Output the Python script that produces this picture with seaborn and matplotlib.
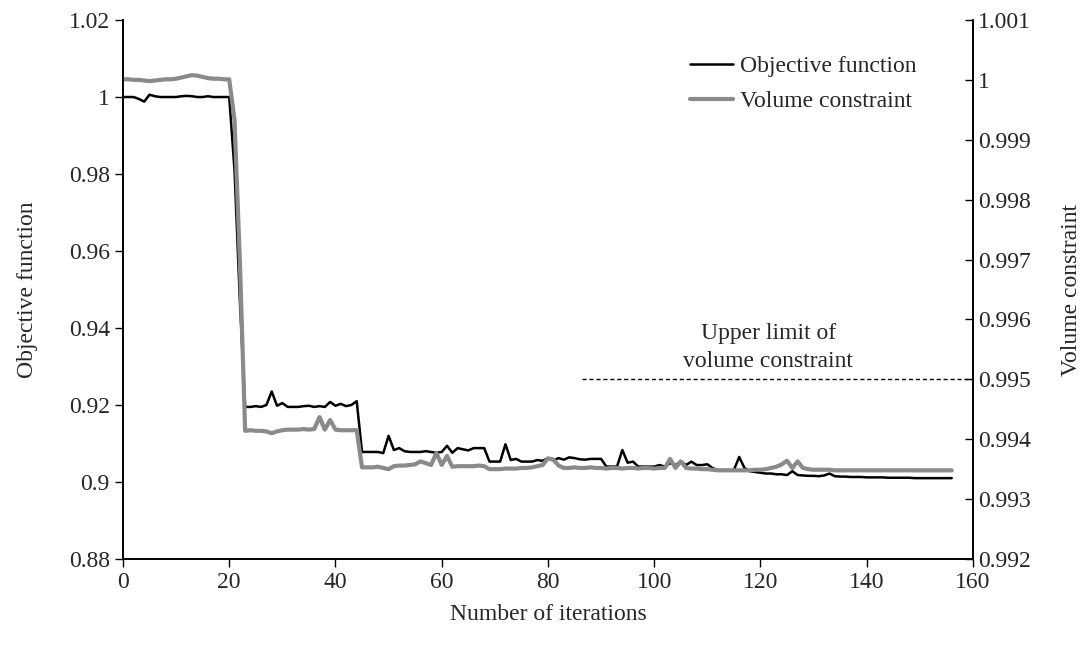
import matplotlib
matplotlib.use("Agg")
import matplotlib.pyplot as plt
import seaborn as sns
import pandas as pd
from matplotlib.ticker import FixedLocator, FuncFormatter

# Optimisation history: objective (left axis) and volume constraint (right axis)
objective = [
    1.0000, 1.0000, 1.0000, 0.9995, 0.9988, 1.0006, 1.0002, 1.0000, 1.0000, 1.0000,
    1.0000, 1.0002, 1.0003, 1.0002, 1.0000, 1.0000, 1.0002, 1.0000, 1.0000, 1.0000,
    1.0000, 0.9810, 0.9473, 0.9195, 0.9195, 0.9197, 0.9195, 0.9200, 0.9235, 0.9198,
    0.9205, 0.9195, 0.9195, 0.9195, 0.9197, 0.9198, 0.9195, 0.9197, 0.9195, 0.9208,
    0.9198, 0.9203, 0.9197, 0.9200, 0.9210, 0.9078, 0.9078, 0.9078, 0.9078, 0.9075,
    0.9120, 0.9083, 0.9088, 0.9080, 0.9078, 0.9078, 0.9078, 0.9080, 0.9078, 0.9076,
    0.9078, 0.9094, 0.9076, 0.9088, 0.9085, 0.9082, 0.9088, 0.9088, 0.9088, 0.9053,
    0.9053, 0.9053, 0.9098, 0.9057, 0.9060, 0.9053, 0.9053, 0.9053, 0.9057, 0.9055,
    0.9062, 0.9056, 0.9062, 0.9058, 0.9064, 0.9062, 0.9059, 0.9058, 0.9060, 0.9060,
    0.9060, 0.9040, 0.9040, 0.9040, 0.9083, 0.9050, 0.9053, 0.9040, 0.9040, 0.9040,
    0.9040, 0.9044, 0.9040, 0.9049, 0.9044, 0.9053, 0.9044, 0.9053, 0.9044, 0.9044,
    0.9046, 0.9036, 0.9031, 0.9031, 0.9031, 0.9031, 0.9065, 0.9036, 0.9028, 0.9026,
    0.9024, 0.9022, 0.9022, 0.9020, 0.9020, 0.9018, 0.9028, 0.9018, 0.9017, 0.9016,
    0.9016, 0.9015, 0.9017, 0.9022, 0.9015, 0.9014, 0.9014, 0.9013, 0.9013, 0.9013,
    0.9012, 0.9012, 0.9012, 0.9012, 0.9011, 0.9011, 0.9011, 0.9011, 0.9011, 0.9010,
    0.9010, 0.9010, 0.9010, 0.9010, 0.9010, 0.9010, 0.9010,
]
volume = [
    1.00001, 1.00001, 1.00000, 1.00000, 0.99999, 0.99998, 0.99999, 1.00000, 1.00001, 1.00001,
    1.00002, 1.00004, 1.00006, 1.00008, 1.00007, 1.00005, 1.00003, 1.00002, 1.00002, 1.00001,
    1.00001, 0.99933, 0.99699, 0.99414, 0.99415, 0.99414, 0.99414, 0.99413, 0.99410, 0.99413,
    0.99415, 0.99416, 0.99416, 0.99416, 0.99417, 0.99416, 0.99417, 0.99437, 0.99416, 0.99432,
    0.99416, 0.99415, 0.99415, 0.99415, 0.99415, 0.99353, 0.99353, 0.99353, 0.99354, 0.99352,
    0.99350, 0.99355, 0.99356, 0.99356, 0.99357, 0.99358, 0.99363, 0.99360, 0.99357, 0.99377,
    0.99357, 0.99372, 0.99354, 0.99355, 0.99355, 0.99355, 0.99355, 0.99356, 0.99355, 0.99350,
    0.99350, 0.99350, 0.99351, 0.99351, 0.99351, 0.99352, 0.99352, 0.99353, 0.99355, 0.99357,
    0.99368, 0.99366, 0.99356, 0.99352, 0.99352, 0.99353, 0.99352, 0.99352, 0.99353, 0.99352,
    0.99352, 0.99351, 0.99352, 0.99352, 0.99351, 0.99352, 0.99352, 0.99351, 0.99352, 0.99352,
    0.99351, 0.99352, 0.99352, 0.99367, 0.99352, 0.99363, 0.99352, 0.99351, 0.99351, 0.99350,
    0.99350, 0.99349, 0.99348, 0.99348, 0.99348, 0.99348, 0.99348, 0.99348, 0.99348, 0.99349,
    0.99349, 0.99350, 0.99352, 0.99354, 0.99358, 0.99364, 0.99352, 0.99363, 0.99352, 0.99350,
    0.99349, 0.99349, 0.99349, 0.99349, 0.99348, 0.99348, 0.99348, 0.99348, 0.99348, 0.99348,
    0.99348, 0.99348, 0.99348, 0.99348, 0.99348, 0.99348, 0.99348, 0.99348, 0.99348, 0.99348,
    0.99348, 0.99348, 0.99348, 0.99348, 0.99348, 0.99348, 0.99348,
]
iterations = list(range(len(objective)))

# Upper limit of the volume constraint (dashed reference line)
limit_iters = [86.5, 160]
limit_value = 0.995

x_ticks = [0, 20, 40, 60, 80, 100, 120, 140, 160]
left_ticks = [0.88, 0.90, 0.92, 0.94, 0.96, 0.98, 1.00, 1.02]
right_ticks = [0.992, 0.993, 0.994, 0.995, 0.996, 0.997, 0.998, 0.999, 1.000, 1.001]

df = pd.DataFrame({"iteration": iterations, "objective": objective, "volume": volume})

sns.set_theme(style="white")
plt.rcParams["font.family"] = ["Liberation Serif", "DejaVu Serif"]
FS = 17

fig = plt.figure(figsize=(10.91, 6.46), dpi=100)
ax = fig.add_axes([0.1127, 0.1347, 0.7791, 0.8343])
ax2 = ax.twinx()

sns.lineplot(data=df, x="iteration", y="objective", ax=ax, color="black",
             linewidth=1.8, label="Objective function", legend=False)
sns.lineplot(data=df, x="iteration", y="volume", ax=ax2, color="#8a8a8a",
             linewidth=3.0, label="Volume constraint", legend=False)
ax2.plot(limit_iters, [limit_value, limit_value], color="black",
         linestyle=(0, (3, 2)), linewidth=1.0)
ax2.text(121.5, limit_value + 0.00012, "Upper limit of\nvolume constraint",
         ha="center", va="bottom", fontsize=FS, linespacing=1.45)


def general(v, pos):
    return f"{v:.3f}".rstrip("0").rstrip(".")


ax.set_xlim(0, 160)
ax.set_ylim(0.88, 1.02)
ax2.set_ylim(0.992, 1.001)
ax.xaxis.set_major_locator(FixedLocator(x_ticks))
ax.yaxis.set_major_locator(FixedLocator(left_ticks))
ax2.yaxis.set_major_locator(FixedLocator(right_ticks))
ax.yaxis.set_major_formatter(FuncFormatter(general))
ax2.yaxis.set_major_formatter(FuncFormatter(general))

ax.set_xlabel("Number of iterations", fontsize=FS, labelpad=8)
ax.set_ylabel("Objective function", fontsize=FS, labelpad=22)
ax2.set_ylabel("Volume constraint", fontsize=FS, labelpad=22)

for a in (ax, ax2):
    a.tick_params(axis="both", labelsize=FS, length=6, width=1.0, color="black",
                  direction="out")
    for side in ("left", "right", "bottom"):
        a.spines[side].set_visible(True)
        a.spines[side].set_color("black")
        a.spines[side].set_linewidth(1.2)
    a.spines["top"].set_visible(False)
ax.tick_params(axis="y", left=True)
ax.tick_params(axis="x", bottom=True)
ax2.tick_params(axis="y", right=True, direction="in")

h1, l1 = ax.get_legend_handles_labels()
h2, l2 = ax2.get_legend_handles_labels()
ax2.legend(h1 + h2, l1 + l2, loc="upper left", bbox_to_anchor=(0.613, 0.947),
           bbox_transform=fig.transFigure, frameon=False, fontsize=FS,
           handlelength=1.8, handletextpad=0.3, labelspacing=0.56)

fig.savefig("out.png", dpi=100, facecolor="white")
